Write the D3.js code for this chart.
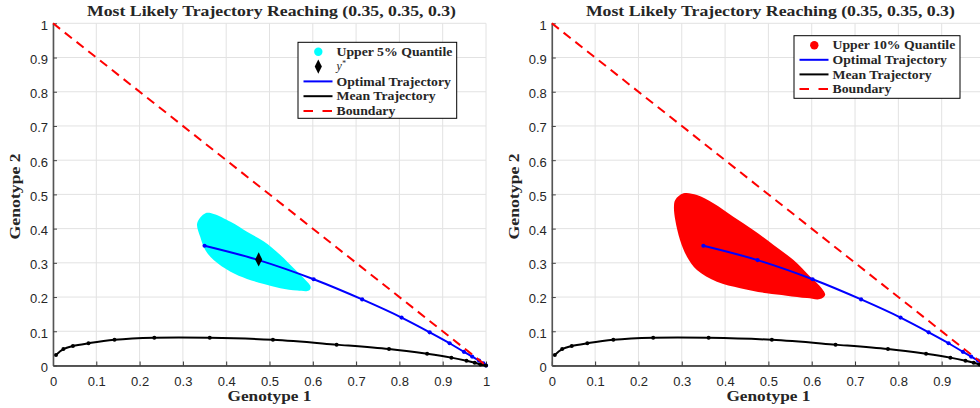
<!DOCTYPE html>
<html>
<head>
<meta charset="utf-8">
<script src="https://cdn.jsdelivr.net/npm/d3@7"></script>
<style>
  html, body { margin: 0; padding: 0; background: #ffffff; }
  svg { display: block; }
  .tick text { font-family: "Liberation Sans", Arial, sans-serif; font-size: 13px; fill: #262626; }
  .serif { font-family: "Liberation Serif", "Times New Roman", serif; font-weight: bold; fill: #262626; }
</style>
</head>
<body>
<svg id="chart" width="980" height="408"></svg>
<script>
// ---- data ----
const titleText = "Most Likely Trajectory Reaching (0.35, 0.35, 0.3)";
const xLabel = "Genotype 1";
const yLabel = "Genotype 2";
const tickValues = [0, 0.1, 0.2, 0.3, 0.4, 0.5, 0.6, 0.7, 0.8, 0.9, 1];
const tickLabels = ["0", "0.1", "0.2", "0.3", "0.4", "0.5", "0.6", "0.7", "0.8", "0.9", "1"];

// optimal (most likely) trajectory to the target point
const optimalX = [0.35, 0.475, 0.602, 0.714, 0.805, 0.870, 0.916, 0.949, 0.968, 0.984, 0.994, 1.0];
const optimalY = [0.35, 0.308, 0.252, 0.193, 0.140, 0.097, 0.065, 0.040, 0.026, 0.014, 0.006, 0.0];

// mean trajectory
const meanX = [0.007, 0.024, 0.046, 0.082, 0.142, 0.234, 0.362, 0.508, 0.655, 0.776, 0.864, 0.920, 0.955, 0.974, 0.987, 1.0];
const meanY = [0.031, 0.048, 0.057, 0.065, 0.075, 0.081, 0.081, 0.075, 0.061, 0.048, 0.034, 0.023, 0.014, 0.008, 0.003, 0.0];

// y* point on the optimal trajectory
const yStar = [0.475, 0.31];

// boundary x + y = 1
const boundaryX = [0, 1];
const boundaryY = [1, 0];

// outline of the upper 5% quantile region
const q5X = [0.333, 0.352, 0.371, 0.410, 0.448, 0.487, 0.525, 0.556, 0.583, 0.595, 0.591, 0.564, 0.525, 0.487, 0.448, 0.410, 0.371, 0.352, 0.340];
const q5Y = [0.416, 0.445, 0.443, 0.420, 0.391, 0.362, 0.323, 0.284, 0.250, 0.230, 0.219, 0.219, 0.226, 0.238, 0.253, 0.274, 0.308, 0.337, 0.376];

// outline of the upper 10% quantile region
const q10X = [0.285, 0.304, 0.335, 0.373, 0.419, 0.465, 0.512, 0.558, 0.596, 0.623, 0.631, 0.619, 0.589, 0.542, 0.496, 0.435, 0.381, 0.335, 0.312, 0.296, 0.285, 0.282];
const q10Y = [0.484, 0.503, 0.498, 0.474, 0.435, 0.396, 0.352, 0.308, 0.260, 0.226, 0.206, 0.194, 0.197, 0.204, 0.211, 0.226, 0.245, 0.279, 0.318, 0.367, 0.425, 0.464];

const zip = (xs, ys) => xs.map((x, i) => [x, ys[i]]);

const W = 980;
const svg = d3.select("#chart");

// widen serif text to the proportions of a Computer Modern bold face
function widen(sel, factor) {
  sel.each(function () {
    const n = this.getComputedTextLength();
    d3.select(this).attr("textLength", n * factor).attr("lengthAdjust", "spacingAndGlyphs");
  });
  return sel;
}

const panels = [
  {
    left: 53, right: 486, top: 23.3, bottom: 365.5,
    region: zip(q5X, q5Y), regionColor: "#00ffff", regionLabel: "Upper 5% Quantile",
    showStar: true,
    legend: { x: 298, y: 42.3, w: 158.7, h: 76, rowH: 14.8 }
  },
  {
    left: 551.8, right: 985, top: 23.3, bottom: 365.5,
    region: zip(q10X, q10Y), regionColor: "#ff0000", regionLabel: "Upper 10% Quantile",
    showStar: false,
    legend: { x: 794, y: 35.7, w: 166, h: 62.6, rowH: 14.6 }
  }
];

panels.forEach(p => {
  const x = d3.scaleLinear().domain([0, 1]).range([p.left, p.right]);
  const y = d3.scaleLinear().domain([0, 1]).range([p.bottom, p.top]);
  const g = svg.append("g");

  // grid
  g.append("g").selectAll("line").data(tickValues).join("line")
    .attr("x1", d => x(d)).attr("x2", d => x(d))
    .attr("y1", p.top).attr("y2", p.bottom)
    .attr("stroke", "#e2e2e2").attr("stroke-width", 1);
  g.append("g").selectAll("line").data(tickValues).join("line")
    .attr("x1", p.left).attr("x2", p.right)
    .attr("y1", d => y(d)).attr("y2", d => y(d))
    .attr("stroke", "#e2e2e2").attr("stroke-width", 1);

  // axes with inward ticks
  const fmt = d => tickLabels[tickValues.indexOf(d)];
  const xAxis = g.append("g").attr("transform", `translate(0,${p.bottom})`)
    .call(d3.axisBottom(x).tickValues(tickValues).tickFormat(fmt).tickSizeInner(-4).tickSizeOuter(0).tickPadding(11));
  xAxis.select(".domain").attr("stroke", "#222").attr("stroke-width", 1.6);
  xAxis.selectAll(".tick line").attr("stroke", "#333");
  // labels whose tick falls past the window edge are not shown
  xAxis.selectAll(".tick").filter(d => x(d) > W - 3).remove();

  const yAxis = g.append("g").attr("transform", `translate(${p.left},0)`)
    .call(d3.axisLeft(y).tickValues(tickValues).tickFormat(fmt).tickSizeInner(-4).tickSizeOuter(0).tickPadding(5));
  yAxis.select(".domain").attr("stroke", "#555").attr("stroke-width", 1.6);
  yAxis.selectAll(".tick line").attr("stroke", "#444");
  yAxis.selectAll(".tick text").attr("dy", "0.45em");

  // quantile region
  g.append("path").datum(p.region)
    .attr("d", d3.line().x(d => x(d[0])).y(d => y(d[1])).curve(d3.curveCatmullRomClosed.alpha(0.5)))
    .attr("fill", p.regionColor);

  // optimal trajectory
  const opt = zip(optimalX, optimalY);
  g.append("path").datum(opt)
    .attr("d", d3.line().x(d => x(d[0])).y(d => y(d[1])).curve(d3.curveMonotoneX))
    .attr("fill", "none").attr("stroke", "#0000ff").attr("stroke-width", 2);
  g.append("g").selectAll("circle").data(opt).join("circle")
    .attr("cx", d => x(d[0])).attr("cy", d => y(d[1])).attr("r", 2.1).attr("fill", "#0000ff");

  // mean trajectory
  const mean = zip(meanX, meanY);
  g.append("path").datum(mean)
    .attr("d", d3.line().x(d => x(d[0])).y(d => y(d[1])).curve(d3.curveCatmullRom))
    .attr("fill", "none").attr("stroke", "#000").attr("stroke-width", 2);
  g.append("g").selectAll("circle").data(mean).join("circle")
    .attr("cx", d => x(d[0])).attr("cy", d => y(d[1])).attr("r", 2).attr("fill", "#000");

  // boundary
  g.append("path").datum(zip(boundaryX, boundaryY))
    .attr("d", d3.line().x(d => x(d[0])).y(d => y(d[1])))
    .attr("fill", "none").attr("stroke", "#ff0000").attr("stroke-width", 2)
    .attr("stroke-dasharray", "9,6");

  // y* marker
  if (p.showStar) {
    g.append("path")
      .attr("d", d3.symbol().type(d3.symbolDiamond).size(40)())
      .attr("transform", `translate(${x(yStar[0])},${y(yStar[1])}) scale(1.05,1.2)`)
      .attr("fill", "#000");
  }

  // title
  g.append("text").attr("class", "serif")
    .attr("x", (p.left + p.right) / 2 + 2).attr("y", 16)
    .attr("text-anchor", "middle").attr("font-size", 14.5)
    .attr("textLength", 369).attr("lengthAdjust", "spacingAndGlyphs")
    .text(titleText);

  // axis labels
  g.append("text").attr("class", "serif")
    .attr("x", (p.left + p.right) / 2).attr("y", 401)
    .attr("text-anchor", "middle").attr("font-size", 14)
    .attr("textLength", 84).attr("lengthAdjust", "spacingAndGlyphs")
    .text(xLabel);
  g.append("text").attr("class", "serif")
    .attr("transform", `translate(${p.left - 33},${(p.top + p.bottom) / 2 + 2}) rotate(-90)`)
    .attr("text-anchor", "middle").attr("font-size", 14)
    .attr("textLength", 86).attr("lengthAdjust", "spacingAndGlyphs")
    .text(yLabel);

  // legend
  const L = p.legend;
  const lg = g.append("g").attr("transform", `translate(${L.x},${L.y})`);
  lg.append("rect").attr("width", L.w).attr("height", L.h)
    .attr("fill", "#fff").attr("stroke", "#000").attr("stroke-width", 1);
  const rows = [{ type: "dot", label: p.regionLabel }];
  if (p.showStar) rows.push({ type: "star" });
  rows.push({ type: "line", color: "#0000ff", label: "Optimal Trajectory" });
  rows.push({ type: "line", color: "#000", label: "Mean Trajectory" });
  rows.push({ type: "dash", color: "#ff0000", label: "Boundary" });
  rows.forEach((r, i) => {
    const cy = 9.5 + i * L.rowH;
    const sx = 5.5, ex = 34.5, cx = 20.3, tx = 38.5;
    if (r.type === "dot") {
      lg.append("circle").attr("cx", cx).attr("cy", cy).attr("r", 4.2).attr("fill", p.regionColor);
    } else if (r.type === "star") {
      lg.append("path").attr("d", d3.symbol().type(d3.symbolDiamond).size(40)())
        .attr("transform", `translate(${cx},${cy}) scale(1.05,1.2)`).attr("fill", "#000");
    } else {
      lg.append("line").attr("x1", sx).attr("x2", ex).attr("y1", cy).attr("y2", cy)
        .attr("stroke", r.color).attr("stroke-width", 2)
        .attr("stroke-dasharray", r.type === "dash" ? "9.5,9.5" : null);
    }
    if (r.type === "star") {
      const t = lg.append("text").attr("x", tx).attr("y", cy + 3.5)
        .attr("font-family", "'Liberation Serif', serif").attr("font-style", "italic")
        .attr("font-size", 12).attr("fill", "#262626");
      t.append("tspan").text("y");
      t.append("tspan").attr("dy", -4).attr("font-size", 8).text("*");
    } else {
      widen(lg.append("text").attr("class", "serif").attr("x", tx).attr("y", cy + 4.2)
        .attr("font-size", 12.5).text(r.label), 1.1);
    }
  });
});
</script>
</body>
</html>
